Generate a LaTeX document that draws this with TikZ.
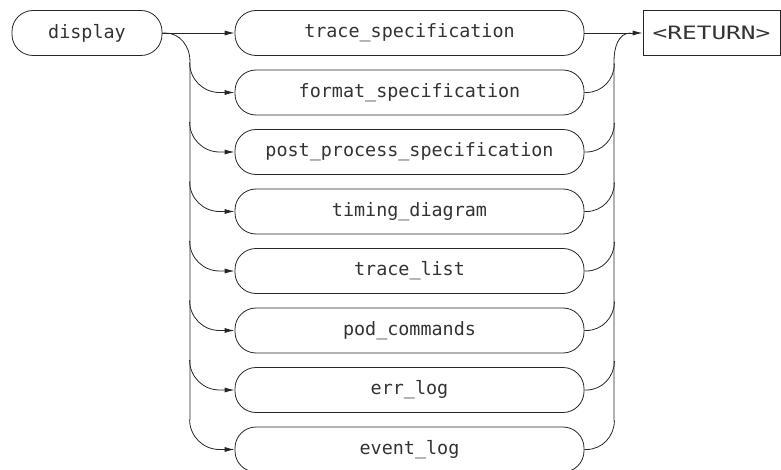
\documentclass[tikz,border=0pt]{standalone}
\usepackage{fontspec}
\newfontfamily\diafont{DejaVu Sans Mono}
\usetikzlibrary{arrows.meta,calc}
\begin{document}
\begin{tikzpicture}[x=1pt,y=1pt,
  line width=0.8pt,
  conn/.style={draw=black!85},
  term/.style={draw=black!85, rectangle, rounded corners=21pt, minimum height=45pt,
    inner sep=0pt, font=\diafont\fontsize{18.4}{20}\selectfont, text=black!80},
  branchbox/.style={term, minimum width=349pt},
  retbox/.style={draw=black!85, rectangle, minimum height=45pt, minimum width=137pt,
    inner sep=0pt, font=\diafont\fontsize{18.4}{20}\selectfont, text=black!80},
  tip/.style={conn, -{Latex[length=10pt,width=5pt]}}
]
\useasboundingbox (0,0) rectangle (781,-470);

\node[term, minimum width=150pt] (display) at (87,-33) {display};

\node[branchbox] (r0) at (409.5,-33)    {trace\_specification};
\node[branchbox] (r1) at (409.5,-92.5)  {format\_specification};
\node[branchbox] (r2) at (409.5,-152)   {post\_process\_specification};
\node[branchbox] (r3) at (409.5,-211.5) {timing\_diagram};
\node[branchbox] (r4) at (409.5,-271)   {trace\_list};
\node[branchbox] (r5) at (409.5,-330.5) {pod\_commands};
\node[branchbox] (r6) at (409.5,-390)   {err\_log};
\node[branchbox] (r7) at (409.5,-449.5) {event\_log};

\node[retbox] (ret) at (711.5,-33) {\scalebox{1.33}[1]{<RETURN>}};

% bus coordinates
\coordinate (lbtop) at (190,-61);
\coordinate (lbbot) at (190,-419.5);
\coordinate (rbtop) at (614,-61);
\coordinate (rbbot) at (614,-420.5);

% main line
\draw[tip] (display.east) -- (r0.west);
\draw[tip] (r0.east) -- (ret.west);

% left bus
\draw[conn] (display.east) -- ++(3,0) to[out=0,in=90] (lbtop) -- (lbbot);
\foreach \i in {1,...,7}{
  \path (r\i.west) ++(-45,30) coordinate (ls\i);
  \draw[tip] (ls\i) to[out=-90,in=180] ($(r\i.west)+(-15,0)$) -- (r\i.west);
}

% right bus
\draw[conn] (rbbot) -- (rbtop) to[out=90,in=180] ($(ret.west)+(-12,0)$);
\foreach \i in {1,...,7}{
  \path (r\i.east) ++(30,29) coordinate (rs\i);
  \draw[conn] (r\i.east) -- ++(2,0) to[out=0,in=-90] (rs\i);
}
\end{tikzpicture}
\end{document}
